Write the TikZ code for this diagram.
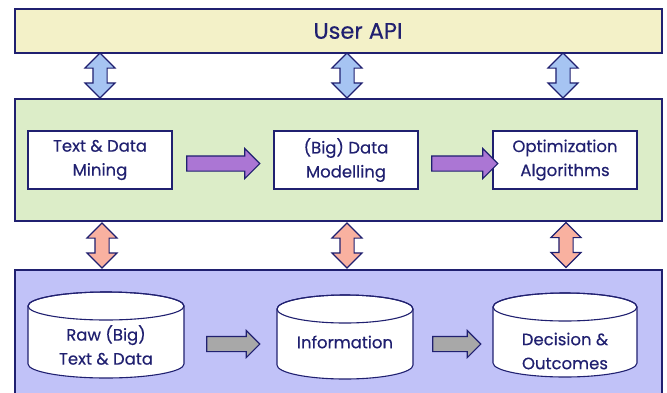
\documentclass[tikz,border=0pt]{standalone}
\usepackage{fontspec}
\setmainfont{Poppins}[FakeBold=0.35]
\usetikzlibrary{shapes.arrows}
\definecolor{navy}{HTML}{202070}
\definecolor{apifill}{HTML}{F3F1C8}
\definecolor{greenfill}{HTML}{DCEDC8}
\definecolor{bluefill}{HTML}{C1C2F8}
\definecolor{blueArr}{HTML}{A6C4F2}
\definecolor{pinkArr}{HTML}{F9B1A0}
\definecolor{purpArr}{HTML}{AB76D4}
\definecolor{grayArr}{HTML}{A8A8A8}
\newcommand\mycyl[7]{% name, cx, top, bottom, rx, text y, text
  \draw[navy, line width=1.1pt, fill=white]
    (#2-#5,#3+14) -- (#2-#5,#4-14)
    arc[start angle=180, end angle=0, x radius=#5, y radius=14]
    -- (#2+#5,#3+14)
    arc[start angle=0, end angle=-180, x radius=#5, y radius=14] -- cycle;
  \draw[navy, line width=1.1pt] (#2,#3+14) ellipse[x radius=#5, y radius=14];
  \node[txt] (#1) at (#2,#6) {#7};
}
\begin{document}
\begin{tikzpicture}[x=1pt,y=-1pt,
  band/.style={draw=navy, line width=1.2pt, minimum width=647pt, inner sep=0pt},
  box/.style={draw=navy, line width=1.2pt, fill=white, minimum width=144pt, minimum height=58pt, align=center, inner sep=0pt, text=navy, font=\fontsize{16.5}{24}\selectfont},
  txt/.style={align=center, text=navy, font=\fontsize{16.5}{24}\selectfont, inner sep=0pt},
  varrow/.style={double arrow, rotate=90, draw=navy, line width=1.1pt, minimum height=45pt, minimum width=29pt, double arrow head extend=8pt, inner sep=6.5pt},
  harrow/.style={single arrow, draw=navy, line width=1.1pt, minimum width=29pt, single arrow head extend=7.5pt, inner sep=7pt},
]
\useasboundingbox (0,0) rectangle (667,392);
% bands
\node[band, fill=apifill, minimum height=44pt] (api) at (338.5,31) {};
\node[text=navy, font=\fontsize{22.5}{24}\selectfont, inner sep=0pt] (apitxt) at (358,31) {User API};
\node[band, fill=greenfill, minimum height=122pt] (proc) at (338.5,160) {};
\node[band, fill=bluefill, minimum height=126pt] (data) at (338.5,333) {};
% vertical arrows
\node[varrow, fill=blueArr] (u1) at (100,75.5) {};
\node[varrow, fill=blueArr] (u2) at (347,75.5) {};
\node[varrow, fill=blueArr] (u3) at (563,75.5) {};
\node[varrow, fill=pinkArr] (d1) at (102,245.5) {};
\node[varrow, fill=pinkArr] (d2) at (347,245.5) {};
\node[varrow, fill=pinkArr] (d3) at (566,245) {};
% process boxes
\node[box] (tdm) at (100,160) {Text \& Data\\Mining};
\node[box] (bdm) at (346,160) {(Big) Data\\Modelling};
\node[box] (opt) at (565,160) {Optimization\\Algorithms};
\node[harrow, fill=purpArr, minimum height=73pt] (p1) at (219.5,163.5) {};
\node[harrow, fill=purpArr, minimum height=66pt] (p2) at (461,163.5) {};
% cylinders
\mycyl{raw}{106}{292}{378}{78}{345}{Raw (Big)\\Text \& Data}
\mycyl{info}{345}{295}{379}{68}{342}{Information}
\mycyl{dec}{565}{293}{377}{72}{351}{Decision \&\\Outcomes}
\node[harrow, fill=grayArr, minimum height=53pt, minimum width=26pt, single arrow head extend=6pt] (g1) at (229.5,344) {};
\node[harrow, fill=grayArr, minimum height=48pt, minimum width=26pt, single arrow head extend=6pt] (g2) at (453,344) {};
\end{tikzpicture}
\end{document}
